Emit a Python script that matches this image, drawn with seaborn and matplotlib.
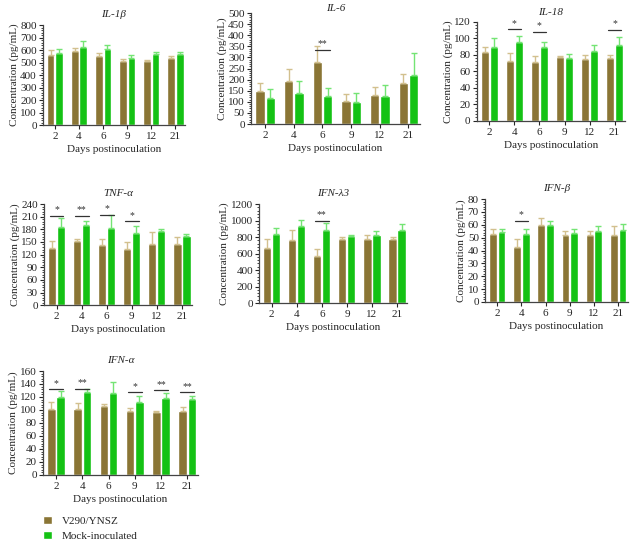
import numpy as np
import pandas as pd
import seaborn as sns
import matplotlib.pyplot as plt
from matplotlib.ticker import AutoMinorLocator, MultipleLocator

sns.set_style('white')
plt.rcParams['font.family'] = ['Liberation Serif', 'DejaVu Serif']

days = ['2', '4', '6', '9', '12', '21']
groups = ['V290/YNSZ', 'Mock-inoculated']

il1b_v = [560, 590, 555, 510, 510, 535]
il1b_v_sd = [40, 25, 25, 15, 10, 20]
il1b_m = [575, 625, 605, 535, 565, 570]
il1b_m_sd = [30, 45, 35, 25, 20, 15]

il6_v = [147, 195, 280, 103, 130, 185]
il6_v_sd = [38, 52, 70, 33, 35, 42]
il6_m = [117, 138, 128, 100, 125, 220]
il6_m_sd = [43, 55, 33, 38, 53, 100]

il18_v = [83, 72, 71, 77, 75, 76]
il18_v_sd = [7, 10, 8, 2, 5, 4]
il18_m = [90, 95, 89, 76, 85, 92]
il18_m_sd = [10, 8, 6, 5, 7, 10]

tnf_v = [136, 152, 142, 134, 146, 144]
tnf_v_sd = [16, 6, 15, 16, 28, 18]
tnf_m = [185, 191, 184, 172, 175, 164]
tnf_m_sd = [22, 8, 29, 17, 6, 5]

ifnl3_v = [665, 765, 570, 775, 775, 780]
ifnl3_v_sd = [105, 115, 90, 30, 50, 25]
ifnl3_m = [835, 935, 890, 810, 820, 890]
ifnl3_m_sd = [75, 75, 85, 10, 55, 70]

ifnb_v = [53, 43, 60, 52, 52, 52]
ifnb_v_sd = [4, 6, 5, 3, 3, 7]
ifnb_m = [54.5, 53, 60, 53.5, 55, 56]
ifnb_m_sd = [2, 4, 3, 3, 4, 5]

ifna_v = [102, 102, 106, 98, 97, 99]
ifna_v_sd = [10, 8, 3, 5, 2, 6]
ifna_m = [120, 127, 126, 112, 118, 117]
ifna_m_sd = [9, 6, 17, 9, 8, 5]

# significance marks: (day index, label, line height)
il6_sig = [(2, '**', 335)]
il18_sig = [(1, '*', 111), (2, '*', 108), (5, '*', 110)]
tnf_sig = [(0, '*', 212), (1, '**', 212), (2, '*', 215), (3, '*', 199)]
ifnl3_sig = [(2, '**', 1000)]
ifnb_sig = [(1, '*', 63)]
ifna_sig = [(0, '*', 132), (1, '**', 133), (3, '*', 127), (4, '**', 130), (5, '**', 127)]

BROWN = '#8a7535'
GREEN = '#14c214'
BROWN_ERR = '#d2c08e'
GREEN_ERR = '#74e474'

panels = [
    ('IL-1β', il1b_v, il1b_v_sd, il1b_m, il1b_m_sd, [], 800, 100, [0.067, 0.770, 0.222, 0.184], 6),
    ('IL-6', il6_v, il6_v_sd, il6_m, il6_m_sd, il6_sig, 500, 50, [0.392, 0.772, 0.264, 0.204], 1.5),
    ('IL-18', il18_v, il18_v_sd, il18_m, il18_m_sd, il18_sig, 120, 20, [0.745, 0.778, 0.231, 0.182], 5),
    ('TNF-α', tnf_v, tnf_v_sd, tnf_m, tnf_m_sd, tnf_sig, 240, 30, [0.069, 0.439, 0.231, 0.186], 6),
    ('IFN-λ3', ifnl3_v, ifnl3_v_sd, ifnl3_m, ifnl3_m_sd, ifnl3_sig, 1200, 200, [0.405, 0.443, 0.231, 0.182], 6),
    ('IFN-β', ifnb_v, ifnb_v_sd, ifnb_m, ifnb_m_sd, ifnb_sig, 80, 10, [0.758, 0.445, 0.223, 0.189], 6),
    ('IFN-α', ifna_v, ifna_v_sd, ifna_m, ifna_m_sd, ifna_sig, 160, 20, [0.067, 0.127, 0.242, 0.191], 6),
]

fig = plt.figure(figsize=(6.4, 5.44), dpi=100)

for name, v, vsd, m, msd, sig, ymax, step, rect, tpad in panels:
    ax = fig.add_axes(rect)
    df = pd.DataFrame({
        'day': days * 2,
        'group': [groups[0]] * 6 + [groups[1]] * 6,
        'conc': v + m,
    })
    sns.barplot(data=df, x='day', y='conc', hue='group', order=days,
                hue_order=groups, palette=[BROWN, GREEN], width=0.72,
                gap=0.1, saturation=1, errorbar=None,
                legend=(name == 'IFN-α'), ax=ax)
    for cont, sd, ec in zip(ax.containers, [vsd, msd], [BROWN_ERR, GREEN_ERR]):
        xs = [p.get_x() + p.get_width() / 2 for p in cont.patches]
        ys = [p.get_height() for p in cont.patches]
        ax.errorbar(xs, ys, yerr=[np.zeros(len(sd)), sd], fmt='none',
                    ecolor=ec, elinewidth=1.0, capsize=2.2, capthick=1.0, zorder=1)
    for i, lab, h in sig:
        ax.plot([i - 0.27, i + 0.27], [h, h], color='#333333', lw=0.9)
        ax.text(i, h + ymax * 0.015, lab, ha='center', va='bottom',
                fontsize=7, color='#333333')
    ax.set_ylim(0, ymax)
    ax.set_xlim(-0.5, 5.4)
    ax.yaxis.set_major_locator(MultipleLocator(step))
    ax.yaxis.set_minor_locator(AutoMinorLocator(5))
    ax.tick_params(axis='y', which='major', direction='out', length=3, width=0.8,
                   labelsize=8, pad=1.5, left=True)
    ax.tick_params(axis='y', which='minor', direction='out', length=1.8, width=0.6, left=True)
    ax.tick_params(axis='x', direction='out', length=3, width=0.8, labelsize=8,
                   pad=2, bottom=True)
    sns.despine(ax=ax)
    for s in ['left', 'bottom']:
        ax.spines[s].set_color('#444444')
        ax.spines[s].set_linewidth(0.9)
    ax.set_title(name, fontsize=8, style='italic', pad=tpad)
    ax.set_xlabel('Days postinoculation', fontsize=8, labelpad=3)
    ax.set_ylabel('Concentration (pg/mL)', fontsize=8, labelpad=1)
    if ax.get_legend() is not None:
        h, l = ax.get_legend_handles_labels()
        ax.get_legend().remove()
        fig.legend(h, l, loc='upper left', bbox_to_anchor=(0.06, 0.06),
                   frameon=False, fontsize=8, handlelength=0.8, handleheight=0.8,
                   handletextpad=0.9, labelspacing=0.45, borderaxespad=0)

fig.savefig('out.png', dpi=100)
